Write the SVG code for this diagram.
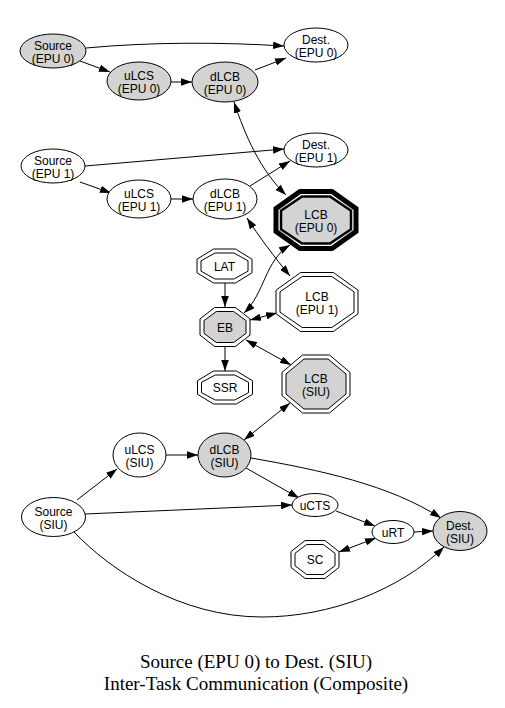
<svg xmlns="http://www.w3.org/2000/svg" width="505" height="708" viewBox="0 0 505 708">
<defs>
<marker id="ah" viewBox="0 0 11 7.5" refX="11" refY="3.75" markerWidth="11" markerHeight="7.5" markerUnits="userSpaceOnUse" orient="auto-start-reverse"><path d="M0,0 L11,3.75 L0,7.5 z" fill="#000"/></marker>
<style>
.n ellipse,.n polygon{stroke:#000;stroke-width:1;fill:#fff}
.g ellipse,.g polygon.in{fill:#d3d3d3}
.n text{font-family:"Liberation Sans",Arial,sans-serif;font-size:12px;text-anchor:middle;fill:#000}
#edges path{fill:none;stroke:#000;stroke-width:1;marker-end:url(#ah)}
#edges path.bi{marker-start:url(#ah)}
.title{font-family:"Liberation Serif","Times New Roman",serif;font-size:19px;text-anchor:middle;fill:#000}
</style>
</defs>
<rect width="505" height="708" fill="#fff"/>
<g id="edges">
<path d="M86,48 C150,42 220,42 284,46"/>
<path d="M80,61 L110,72"/>
<path d="M171,82 L192,82"/>
<path d="M255,70 L286,58"/>
<path class="bi" d="M234,102 C245,135 260,170 286,195"/>
<path d="M85,166 L284,149"/>
<path d="M80,182 L111,193"/>
<path d="M171,199 L193,199"/>
<path d="M250,186 L290,161"/>
<path class="bi" d="M247,218 C258,235 275,258 290,276"/>
<path class="bi" d="M244,313 C265,293 265,260 290,245"/>
<path d="M225,283 L225,307"/>
<path d="M225,346 L225,371"/>
<path class="bi" d="M250,320 L277,313"/>
<path class="bi" d="M246,340 L291,365"/>
<path class="bi" d="M244,440 L290,403"/>
<path d="M77,500 L117,469"/>
<path d="M166,455 L198,455"/>
<path d="M246,468 L299,498"/>
<path d="M251,458 C320,470 390,485 441,518"/>
<path d="M85,514 L292,505"/>
<path d="M336,511 L375,526"/>
<path d="M414,532 L433,531"/>
<path class="bi" d="M339,552 L376,538"/>
<path d="M74,532 C110,570 180,617 262,617 C330,617 400,590 444,547"/>
</g>
<g id="src_epu0" class="n g"><ellipse cx="53" cy="51" rx="33" ry="17"/><text x="53" y="49.5">Source</text><text x="53" y="62.5">(EPU 0)</text></g>
<g id="ulcs_epu0" class="n g"><ellipse cx="139" cy="81" rx="32" ry="19"/><text x="139" y="79.5">uLCS</text><text x="139" y="92.5">(EPU 0)</text></g>
<g id="dlcb_epu0" class="n g"><ellipse cx="225" cy="82" rx="33" ry="20"/><text x="225" y="80.5">dLCB</text><text x="225" y="93.5">(EPU 0)</text></g>
<g id="dest_epu0" class="n"><ellipse cx="316" cy="45" rx="32" ry="17"/><text x="316" y="43.5">Dest.</text><text x="316" y="56.5">(EPU 0)</text></g>
<g id="src_epu1" class="n"><ellipse cx="53" cy="166" rx="32" ry="17"/><text x="53" y="164.5">Source</text><text x="53" y="177.5">(EPU 1)</text></g>
<g id="ulcs_epu1" class="n"><ellipse cx="139" cy="199" rx="32" ry="19"/><text x="139" y="197.5">uLCS</text><text x="139" y="210.5">(EPU 1)</text></g>
<g id="dlcb_epu1" class="n"><ellipse cx="225" cy="199" rx="32" ry="20"/><text x="225" y="197.5">dLCB</text><text x="225" y="210.5">(EPU 1)</text></g>
<g id="dest_epu1" class="n"><ellipse cx="316" cy="150" rx="32" ry="17"/><text x="316" y="148.5">Dest.</text><text x="316" y="161.5">(EPU 1)</text></g>
<g id="lcb_epu0" class="n g">
<polygon points="300,191.5 332,191.5 356,208.6 356,231.4 332,248.5 300,248.5 276,231.4 276,208.6" style="stroke-width:5"/>
<polygon class="in" points="302,196.5 330,196.5 351,210.6 351,229.4 330,243.5 302,243.5 281,229.4 281,210.6" style="stroke-width:2.5"/>
<text x="316" y="218.5">LCB</text><text x="316" y="231.5">(EPU 0)</text></g>
<g id="lcb_epu1" class="n">
<polygon points="300.6,272.5 333.4,272.5 358,290.2 358,313.8 333.4,331.5 300.6,331.5 276,313.8 276,290.2"/>
<polygon points="302.2,276.5 331.8,276.5 354,291.8 354,312.2 331.8,327.5 302.2,327.5 280,312.2 280,291.8"/>
<text x="317" y="300.5">LCB</text><text x="317" y="313.5">(EPU 1)</text></g>
<g id="lat" class="n">
<polygon points="213.5,249 235.5,249 252,259.2 252,272.8 235.5,283 213.5,283 197,272.8 197,259.2"/>
<polygon points="215.1,253 233.9,253 248,260.8 248,271.2 233.9,279 215.1,279 201,271.2 201,260.8"/>
<text x="224.5" y="270.5">LAT</text></g>
<g id="eb" class="n g">
<polygon points="214.65,307.5 235.35,307.5 250,318.9 250,335.1 235.35,346.5 214.65,346.5 200,335.1 200,318.9" style="fill:#fff"/>
<polygon class="in" points="216.3,311.5 233.7,311.5 246,320.6 246,333.4 233.7,342.5 216.3,342.5 204,333.4 204,320.6"/>
<text x="225" y="331.5">EB</text></g>
<g id="ssr" class="n">
<polygon points="213.6,371 236.4,371 252.5,380.7 252.5,394.3 236.4,404 213.6,404 197.5,394.3 197.5,380.7"/>
<polygon points="215.3,375 234.7,375 248.5,382.3 248.5,392.7 234.7,400 215.3,400 201.5,392.7 201.5,382.3"/>
<text x="225" y="392">SSR</text></g>
<g id="lcb_siu" class="n g">
<polygon points="302.4,355 329.6,355 350,372.4 350,395.6 329.6,413 302.4,413 282,395.6 282,372.4" style="fill:#fff"/>
<polygon class="in" points="304,359 328,359 346,374 346,394 328,409 304,409 286,394 286,374"/>
<text x="316" y="382.5">LCB</text><text x="316" y="395.5">(SIU)</text></g>
<g id="ulcs_siu" class="n"><ellipse cx="139.5" cy="455" rx="26.5" ry="22"/><text x="139.5" y="453.5">uLCS</text><text x="139.5" y="466.5">(SIU)</text></g>
<g id="dlcb_siu" class="n g"><ellipse cx="224.5" cy="455" rx="26.5" ry="22"/><text x="224.5" y="453.5">dLCB</text><text x="224.5" y="466.5">(SIU)</text></g>
<g id="src_siu" class="n"><ellipse cx="53.5" cy="517" rx="32" ry="19.5"/><text x="53.5" y="515.5">Source</text><text x="53.5" y="528.5">(SIU)</text></g>
<g id="ucts" class="n"><ellipse cx="315" cy="505" rx="23" ry="11.5"/><text x="315" y="509.5">uCTS</text></g>
<g id="urt" class="n"><ellipse cx="393" cy="532" rx="21" ry="11.5"/><text x="393" y="536.5">uRT</text></g>
<g id="dest_siu" class="n g"><ellipse cx="460" cy="531" rx="27" ry="19.5"/><text x="460" y="529.5">Dest.</text><text x="460" y="542.5">(SIU)</text></g>
<g id="sc" class="n">
<polygon points="305.1,540.5 324.9,540.5 339,551.6 339,567.4 324.9,578.5 305.1,578.5 291,567.4 291,551.6"/>
<polygon points="306.7,544.5 323.3,544.5 335,553.3 335,565.7 323.3,574.5 306.7,574.5 295,565.7 295,553.3"/>
<text x="315" y="564">SC</text></g>
<text class="title" x="256" y="668">Source (EPU 0) to Dest. (SIU)</text>
<text class="title" x="256" y="690">Inter-Task Communication (Composite)</text>
</svg>
